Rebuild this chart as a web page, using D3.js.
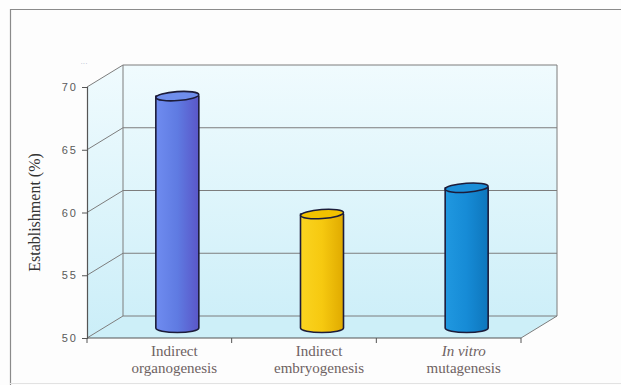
<!DOCTYPE html>
<html>
<head>
<meta charset="utf-8">
<script src="https://cdn.jsdelivr.net/npm/d3@7"></script>
<style>
  html, body { margin: 0; padding: 0; background: #fdfdfd; }
  svg { display: block; }
</style>
</head>
<body>
<svg id="chart" width="621" height="385"></svg>
<script>
// Establishment rate by regeneration pathway
const categories = ["Indirect organogenesis", "Indirect embryogenesis", "In vitro mutagenesis"];
const labelLines = [["Indirect", "organogenesis"], ["Indirect", "embryogenesis"], ["In vitro", "mutagenesis"]];
const italicFirstLine = [false, false, true];
const values = [68.4, 59.0, 61.1];
const yTicks = [50, 55, 60, 65, 70];
const yTitle = "Establishment (%)";

const barColors = [
  { left: "#6f8cf0", mid: "#5f7be2", right: "#5a56c8", top: "#6f8eec" },
  { left: "#fad420", mid: "#f6c910", right: "#e0aa00", top: "#f2c200" },
  { left: "#2098e0", mid: "#168bd6", right: "#0e76bc", top: "#1a8ed8" }
];

const svg = d3.select("#chart");
const defs = svg.append("defs");

// frame
svg.append("line").attr("x1", 10).attr("x2", 621).attr("y1", 9.5).attr("y2", 9.5)
  .attr("stroke", "#8a8a8a").attr("stroke-width", 1.2);
svg.append("line").attr("x1", 10.5).attr("x2", 10.5).attr("y1", 9).attr("y2", 385)
  .attr("stroke", "#8a8a8a").attr("stroke-width", 1.2);
svg.append("line").attr("x1", 10).attr("x2", 621).attr("y1", 383.5).attr("y2", 383.5)
  .attr("stroke", "#e2e2e2").attr("stroke-width", 1);

// scales
const y = d3.scaleLinear().domain([50, 70]).range([338, 87]);
const x = d3.scaleBand().domain(categories).range([87, 521]).padding(0);
const dx = 36, dy = -22;          // depth offset of the back wall
const x0 = x.range()[0], x1 = x.range()[1];
const yBottom = y(50), yTop = y(70);

// wall gradient
const wallGrad = defs.append("linearGradient").attr("id", "wall")
  .attr("gradientUnits", "userSpaceOnUse")
  .attr("x1", 0).attr("y1", yTop + dy).attr("x2", 0).attr("y2", yBottom);
wallGrad.append("stop").attr("offset", 0).attr("stop-color", "#f0fbfe");
wallGrad.append("stop").attr("offset", 1).attr("stop-color", "#cbeef8");

const walls = svg.append("g");
// back wall
walls.append("rect")
  .attr("x", x0 + dx).attr("y", yTop + dy)
  .attr("width", x1 - x0).attr("height", yBottom - yTop)
  .attr("fill", "url(#wall)");
// side wall
walls.append("path")
  .attr("d", `M${x0},${yTop} L${x0 + dx},${yTop + dy} L${x0 + dx},${yBottom + dy} L${x0},${yBottom} Z`)
  .attr("fill", "url(#wall)");
// floor
walls.append("path")
  .attr("d", `M${x0},${yBottom} L${x0 + dx},${yBottom + dy} L${x1 + dx},${yBottom + dy} L${x1},${yBottom} Z`)
  .attr("fill", "#cdeff8");

const gridColor = "#7d7d7d";
const grid = svg.append("g").attr("stroke", gridColor).attr("stroke-width", 1).attr("fill", "none");
// back wall gridlines and side-wall diagonals
yTicks.forEach(t => {
  grid.append("line")
    .attr("x1", x0 + dx).attr("x2", x1 + dx)
    .attr("y1", y(t) + dy).attr("y2", y(t) + dy);
  grid.append("line")
    .attr("x1", x0).attr("x2", x0 + dx)
    .attr("y1", y(t)).attr("y2", y(t) + dy);
});
// back wall verticals
grid.append("line").attr("x1", x0 + dx).attr("x2", x0 + dx).attr("y1", yTop + dy).attr("y2", yBottom + dy);
grid.append("line").attr("x1", x1 + dx).attr("x2", x1 + dx).attr("y1", yTop + dy).attr("y2", yBottom + dy);
// floor right edge
grid.append("line").attr("x1", x1).attr("x2", x1 + dx).attr("y1", yBottom).attr("y2", yBottom + dy);

// y axis
const yAxis = svg.append("g")
  .attr("transform", `translate(${x0},0)`)
  .call(d3.axisLeft(y).tickValues(yTicks).tickSize(5).tickPadding(6).tickFormat(d3.format("d")));
yAxis.select(".domain").attr("stroke", "#555").attr("stroke-width", 1.2);
yAxis.selectAll(".tick line").attr("stroke", "#555");
yAxis.selectAll(".tick text")
  .attr("font-family", "'Liberation Sans', Arial, sans-serif")
  .attr("font-size", 11).attr("fill", "#5a5a5a")
  .attr("letter-spacing", "2px").attr("dx", "2px");

// x axis: ticks at category boundaries
const xAxisG = svg.append("g").attr("stroke", "#555").attr("stroke-width", 1.2);
xAxisG.append("line").attr("x1", x0).attr("x2", x1).attr("y1", yBottom).attr("y2", yBottom);
categories.forEach(c => {
  const xe = x(c) + x.bandwidth();
  xAxisG.append("line").attr("x1", xe).attr("x2", xe).attr("y1", yBottom).attr("y2", yBottom + 5)
    .attr("stroke-width", 1);
});
xAxisG.append("line").attr("x1", x0).attr("x2", x0).attr("y1", yBottom).attr("y2", yBottom + 5)
  .attr("stroke-width", 1);

// small mark above the axis
svg.append("text").attr("x", 84).attr("y", 66).attr("text-anchor", "middle")
  .attr("font-family", "'Liberation Sans', sans-serif").attr("font-size", 7)
  .attr("fill", "#a9b3c8").text("···");

// cylinders
const rx = 21.5, ry = 4.5;
const bars = svg.append("g");
categories.forEach((c, i) => {
  const col = barColors[i];
  const g = defs.append("linearGradient").attr("id", "bar" + i)
    .attr("x1", 0).attr("x2", 1).attr("y1", 0).attr("y2", 0);
  g.append("stop").attr("offset", 0).attr("stop-color", col.left);
  g.append("stop").attr("offset", 0.5).attr("stop-color", col.mid);
  g.append("stop").attr("offset", 1).attr("stop-color", col.right);

  const cx = x(c) + x.bandwidth() / 2 + dx / 2;
  const yb = y(50) + dy / 2 + 1;
  const yt = y(values[i]) + dy / 2;

  bars.append("path")
    .attr("d", `M${cx - rx},${yt} L${cx - rx},${yb} A${rx},${ry} 0 0 0 ${cx + rx},${yb} L${cx + rx},${yt} Z`)
    .attr("fill", `url(#bar${i})`)
    .attr("stroke", "#1c1c3a").attr("stroke-width", 1.6).attr("stroke-linejoin", "round");
  bars.append("ellipse")
    .attr("cx", cx).attr("cy", yt).attr("rx", rx).attr("ry", ry)
    .attr("transform", `rotate(-4,${cx},${yt})`)
    .attr("fill", col.top)
    .attr("stroke", "#1c1c3a").attr("stroke-width", 1.6);
});

// category labels
const labels = svg.append("g")
  .attr("font-family", "'Liberation Serif', 'Times New Roman', serif")
  .attr("font-size", 15).attr("fill", "#6e6262").attr("text-anchor", "middle");
categories.forEach((c, i) => {
  const cx = x(c) + x.bandwidth() / 2 + 15;
  labels.append("text").attr("x", cx).attr("y", 356)
    .attr("font-style", italicFirstLine[i] ? "italic" : "normal")
    .text(labelLines[i][0]);
  labels.append("text").attr("x", cx).attr("y", 373)
    .text(labelLines[i][1]);
});

// y axis title
svg.append("text")
  .attr("transform", `translate(40,${(yTop + yBottom) / 2}) rotate(-90)`)
  .attr("text-anchor", "middle")
  .attr("font-family", "'Liberation Serif', 'Times New Roman', serif")
  .attr("font-size", 16).attr("fill", "#333")
  .text(yTitle);
</script>
</body>
</html>
